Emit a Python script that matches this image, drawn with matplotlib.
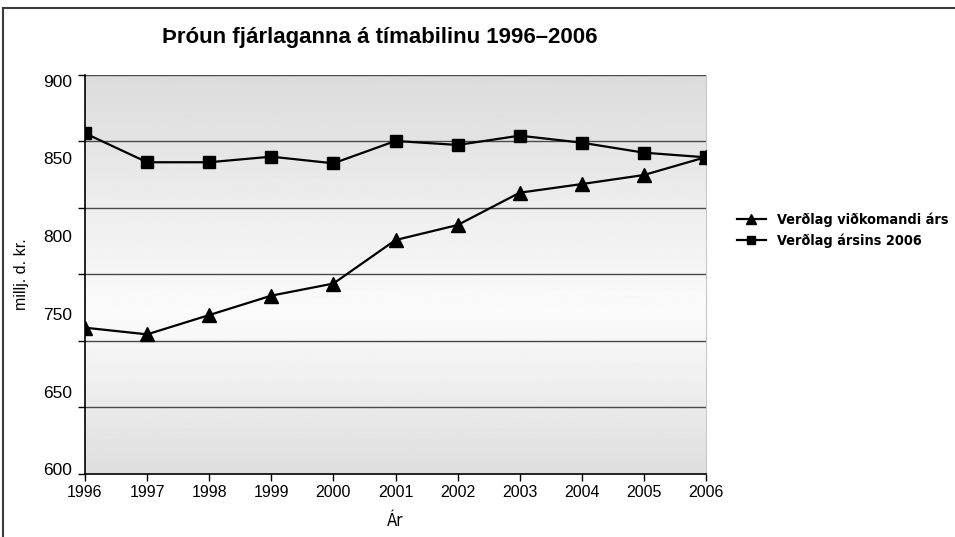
import numpy as np
import matplotlib
matplotlib.use("Agg")
from matplotlib import pyplot as plt
from matplotlib import font_manager
from matplotlib.lines import Line2D

#%%  Gögn

ar = [1996, 1997, 1998, 1999, 2000, 2001, 2002, 2003, 2004, 2005, 2006]
vidkomandi = [710.0, 705.0, 719.5, 734.1, 743.2, 775.9, 787.2, 811.5, 818.0, 824.8, 838.3]
arsins_2006 = [856.2, 834.4, 834.4, 838.6, 833.6, 850.4, 847.4, 854.4, 849.1, 841.6, 838.1]

grid_y = [600, 650, 700, 750, 800, 850, 900]
ylabels = ["900", "850", "800", "750", "650", "600"]
ylabel_pos = [894.2, 836.6, 777.7, 719.0, 660.2, 603.0]

titill = "Þróun fjárlaganna á tímabilinu 1996–2006"
leg1 = "Verðlag viðkomandi árs"
leg2 = "Verðlag ársins 2006"

#%%  Letur

plt.rcParams['font.family'] = ['Liberation Sans', 'DejaVu Sans']

# mjótt letur ef til er
nofn = {f.name for f in font_manager.fontManager.ttflist}
mjo = [f for f in font_manager.fontManager.ttflist
       if f.name == 'DejaVu Sans' and 'ondensed' in str(f.stretch) + f.fname]
if 'Liberation Sans Narrow' in nofn:
    narrow = dict(family=['Liberation Sans Narrow', 'DejaVu Sans'])
    leg_size = 11.5
elif mjo:
    narrow = dict(family=['DejaVu Sans'], stretch='condensed')
    leg_size = 10.4
else:
    narrow = dict(family=['Liberation Sans', 'DejaVu Sans'])
    leg_size = 9.8

#%%  Mynd

fig = plt.figure(figsize=(9.55, 5.37), dpi=100)
ax = fig.add_axes([85/955, 1-474/537, 621/955, 399/537])

# bakgrunnur með litastigli
t = np.linspace(0, 1, 256)
g = np.interp(t, [0, 0.6, 1], [0.86, 0.985, 0.87])
ax.imshow(np.repeat(g[:, None], 2, axis=1), cmap='gray', vmin=0, vmax=1,
          extent=[0, 1, 0, 1], transform=ax.transAxes, aspect='auto', zorder=0)

for v in grid_y[1:]:
    ax.axhline(v, color='#4a4a4a', lw=1.0, zorder=1)

ax.plot(ar, vidkomandi, color='black', lw=1.6, marker='^', ms=10, zorder=3, label=leg1)
ax.plot(ar, arsins_2006, color='black', lw=1.6, marker='s', ms=9, zorder=3, label=leg2)

ax.set_xlim(ar[0], ar[-1])
ax.set_ylim(grid_y[0], grid_y[-1])
ax.set_xticks(ar)
ax.set_xticklabels([str(a) for a in ar], fontsize=11.5)
ax.set_yticks(grid_y)
ax.set_yticklabels([])
ax.tick_params(axis='both', direction='out', length=5, width=1, color='black')
ax.tick_params(axis='x', pad=3)

for lab, p in zip(ylabels, ylabel_pos):
    ax.text(-0.021, p, lab, transform=ax.get_yaxis_transform(), ha='right',
            va='center', fontsize=12.5)

ax.spines['top'].set_visible(False)
ax.spines['right'].set_color('#c8c8c8')
ax.spines['left'].set_color('black')
ax.spines['bottom'].set_color('black')
ax.spines['left'].set_linewidth(1.2)
ax.spines['bottom'].set_linewidth(1.2)

ax.set_ylabel("millj. d. kr.", fontsize=11.5)
ax.yaxis.set_label_coords(-0.09, 0.5)
ax.set_xlabel("Ár", fontsize=12, **narrow)
ax.xaxis.set_label_coords(0.5, -0.095)

fig.text(380/955, 1-37/537, titill, ha='center', va='center',
         fontsize=16, fontweight='bold')

fig.legend(loc='center left', bbox_to_anchor=(724/955, 1-230/537), frameon=False,
           handlelength=2.0, handletextpad=0.8, labelspacing=0.45,
           prop=dict(weight='bold', size=leg_size, **narrow), markerscale=0.7)

# rammi
fig.add_artist(Line2D([3/955, 3/955], [0, 1-8/537], color='#3c3c3c', lw=1.5,
                      transform=fig.transFigure))
fig.add_artist(Line2D([3/955, 1], [1-8/537, 1-8/537], color='#3c3c3c', lw=1.5,
                      transform=fig.transFigure))

fig.savefig("out.png", dpi=100)
